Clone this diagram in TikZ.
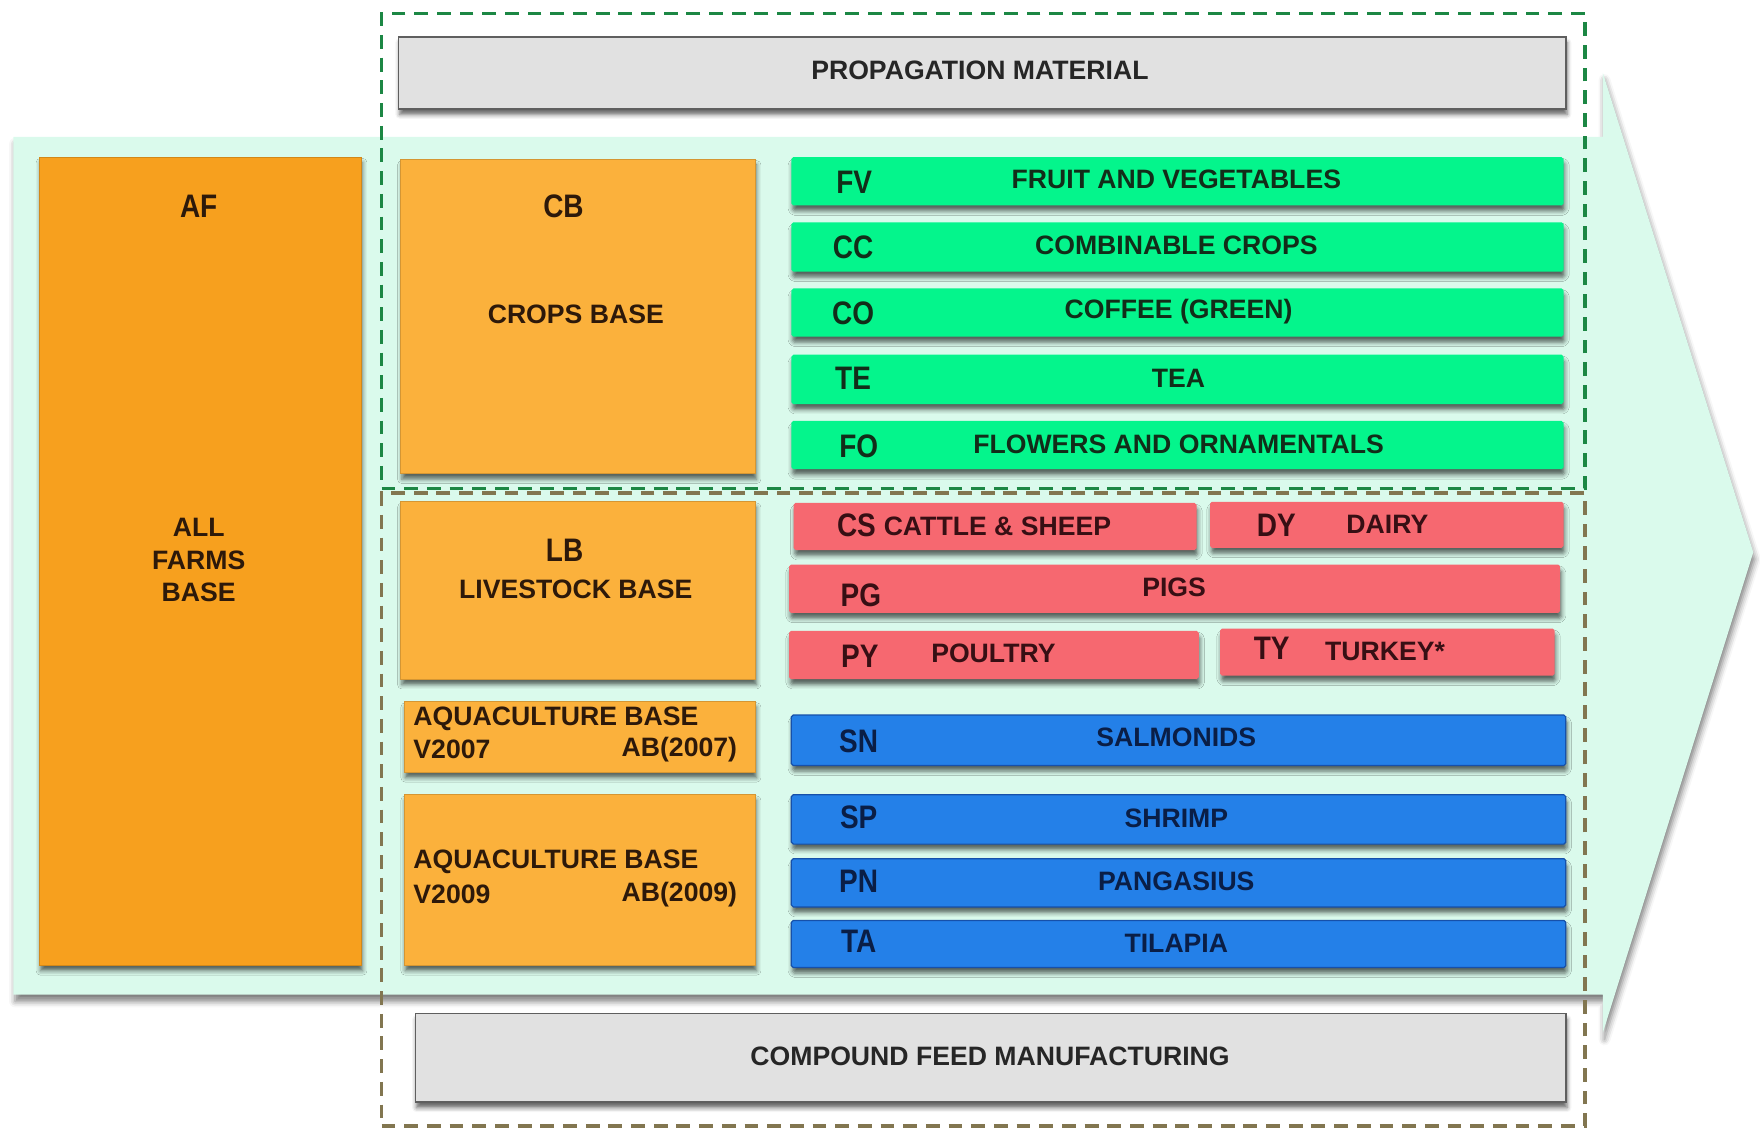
\documentclass[tikz,border=0pt]{standalone}
\usepackage{fontspec}
\setmainfont{Liberation Sans}
\newfontfamily\codefont{Liberation Sans}[FakeStretch=0.86]
\usetikzlibrary{fit,shadows.blur}

\definecolor{mint}{RGB}{218,250,236}
\definecolor{afor}{RGB}{247,160,30}
\definecolor{baseor}{RGB}{251,177,60}
\definecolor{cropgreen}{RGB}{4,245,140}
\definecolor{livered}{RGB}{246,104,112}
\definecolor{aquablue}{RGB}{36,128,232}
\definecolor{aquaedge}{RGB}{22,80,170}
\definecolor{panelgrey}{RGB}{225,225,225}
\definecolor{paneledge}{RGB}{95,95,95}
\definecolor{framegreen}{RGB}{28,135,68}
\definecolor{frameolive}{RGB}{130,118,80}
\definecolor{txtor}{RGB}{45,25,10}
\definecolor{txtgreen}{RGB}{18,45,25}
\definecolor{txtred}{RGB}{55,15,20}
\definecolor{txtblue}{RGB}{10,30,70}

\begin{document}
\begin{tikzpicture}[x=0.02cm,y=-0.02cm,
  soft/.style={blur shadow={shadow xshift=0.6pt,shadow yshift=-2.8pt,
      shadow blur radius=2.2pt,shadow opacity=60}},
  softbig/.style={blur shadow={shadow xshift=0.8pt,shadow yshift=-3.5pt,
      shadow blur radius=3pt,shadow opacity=50}},
  cell/.style={rectangle,inner sep=0pt,outer sep=0pt,soft},
  farmbox/.style={cell,fill=afor,draw=afor!85!black,line width=0.4pt},
  basebox/.style={cell,fill=baseor,draw=baseor!85!black,line width=0.4pt},
  cropbar/.style={cell,fill=cropgreen,rounded corners=1pt},
  livebar/.style={cell,fill=livered,rounded corners=1pt},
  aquabar/.style={cell,fill=aquablue,draw=aquaedge,line width=0.6pt,rounded corners=1pt},
  greypanel/.style={cell,fill=panelgrey,draw=paneledge,line width=0.8pt},
  greenframe/.style={rectangle,inner sep=0pt,draw=framegreen,line width=1.8pt,
      dash pattern=on 7pt off 4.5pt},
  oliveframe/.style={rectangle,inner sep=0pt,draw=frameolive,line width=1.8pt,
      dash pattern=on 7pt off 4.5pt},
  lbl/.style={inner sep=0pt,font=\fontsize{13.5}{16.5}\selectfont\bfseries},
  code/.style={inner sep=0pt,font=\codefont\fontsize{16.5}{18}\selectfont\bfseries},
]
\useasboundingbox (0,0) rectangle (1568,1009);

% background arrow
\path[fill=mint,softbig] (12,122) -- (1428,122) -- (1428,65) -- (1562,492)
  -- (1428,920) -- (1428,886) -- (12,886) -- cycle;

% dashed frames
\node[oliveframe,fit={(340,439)(1412,1003)}] (lowerframe) {};
\node[greenframe,fit={(340,12)(1412,435)}] (upperframe) {};

% grey panels
\node[greypanel,fit={(355,33)(1395,97)}] (prop) {};
\node[lbl,text=black!85] (propt) at (873,63) {PROPAGATION MATERIAL};
\node[greypanel,fit={(370,903)(1395,982)}] (feed) {};
\node[lbl,text=black!85] (feedt) at (882,941) {COMPOUND FEED MANUFACTURING};

% bases
\node[farmbox,fit={(35,140)(322,860)}] (af) {};
\node[code,text=txtor] (afc) at (177,184) {AF};
\node[lbl,text=txtor,align=center] (aft) at (177,499) {ALL\\FARMS\\BASE};

\node[basebox,fit={(357,142)(673,422)}] (cb) {};
\node[code,text=txtor] (cbc) at (502,184) {CB};
\node[lbl,text=txtor] (cbt) at (513,280) {CROPS BASE};

\node[basebox,fit={(357,447)(673,605)}] (lb) {};
\node[code,text=txtor] (lbc) at (503,490) {LB};
\node[lbl,text=txtor] (lbt) at (513,525) {LIVESTOCK BASE};

\node[basebox,fit={(360,625)(673,688)}] (ab7) {};
\node[lbl,text=txtor,anchor=west] (ab7t) at (368,640) {AQUACULTURE BASE};
\node[lbl,text=txtor,anchor=west] (ab7v) at (368,668) {V2007};
\node[lbl,text=txtor,anchor=east] (ab7c) at (657,668) {AB(2007)};

\node[basebox,fit={(360,708)(673,860)}] (ab9) {};
\node[lbl,text=txtor,anchor=west] (ab9t) at (368,768) {AQUACULTURE BASE};
\node[lbl,text=txtor,anchor=west] (ab9v) at (368,797) {V2009};
\node[lbl,text=txtor,anchor=east] (ab9c) at (657,797) {AB(2009)};

% crop scopes
\node[cropbar,fit={(705,140)(1393,183)}] (fv) {};
\node[code,text=txtgreen] (fvc) at (761,162) {FV};
\node[lbl,text=txtgreen] (fvt) at (1048,160) {FRUIT AND VEGETABLES};
\node[cropbar,fit={(705,198)(1393,242)}] (cc) {};
\node[code,text=txtgreen] (ccc) at (760,220) {CC};
\node[lbl,text=txtgreen] (cct) at (1048,219) {COMBINABLE CROPS};
\node[cropbar,fit={(705,257)(1393,300)}] (co) {};
\node[code,text=txtgreen] (coc) at (760,279) {CO};
\node[lbl,text=txtgreen] (cot) at (1050,278) {COFFEE (GREEN)};
\node[cropbar,fit={(705,316)(1393,360)}] (te) {};
\node[code,text=txtgreen] (tec) at (760,337) {TE};
\node[lbl,text=txtgreen] (tet) at (1050,337) {TEA};
\node[cropbar,fit={(705,375)(1393,418)}] (fo) {};
\node[code,text=txtgreen] (foc) at (765,398) {FO};
\node[lbl,text=txtgreen] (fot) at (1050,396) {FLOWERS AND ORNAMENTALS};

% livestock scopes
\node[livebar,fit={(707,448)(1066,490)}] (cs) {};
\node[code,text=txtred] (csc) at (763,468) {CS};
\node[lbl,text=txtred,anchor=west] (cst) at (787,469) {CATTLE \& SHEEP};
\node[livebar,fit={(1078,447)(1393,488)}] (dy) {};
\node[code,text=txtred] (dyc) at (1137,468) {DY};
\node[lbl,text=txtred] (dyt) at (1236,467) {DAIRY};
\node[livebar,fit={(703,503)(1390,546)}] (pg) {};
\node[code,text=txtred] (pgc) at (767,530) {PG};
\node[lbl,text=txtred] (pgt) at (1046,523) {PIGS};
\node[livebar,fit={(703,562)(1068,605)}] (py) {};
\node[code,text=txtred] (pyc) at (766,585) {PY};
\node[lbl,text=txtred] (pyt) at (885,582) {POULTRY};
\node[livebar,fit={(1087,560)(1385,602)}] (ty) {};
\node[code,text=txtred] (tyc) at (1133,578) {TY};
\node[lbl,text=txtred] (tyt) at (1234,580) {TURKEY*};

% aquaculture scopes
\node[aquabar,fit={(705,637)(1395,682)}] (sn) {};
\node[code,text=txtblue] (snc) at (765,660) {SN};
\node[lbl,text=txtblue] (snt) at (1048,657) {SALMONIDS};
\node[aquabar,fit={(705,708)(1395,752)}] (sp) {};
\node[code,text=txtblue] (spc) at (765,728) {SP};
\node[lbl,text=txtblue] (spt) at (1048,729) {SHRIMP};
\node[aquabar,fit={(705,765)(1395,808)}] (pn) {};
\node[code,text=txtblue] (pnc) at (765,785) {PN};
\node[lbl,text=txtblue] (pnt) at (1048,785) {PANGASIUS};
\node[aquabar,fit={(705,820)(1395,862)}] (ta) {};
\node[code,text=txtblue] (tac) at (765,839) {TA};
\node[lbl,text=txtblue] (tat) at (1048,840) {TILAPIA};
\end{tikzpicture}
\end{document}
